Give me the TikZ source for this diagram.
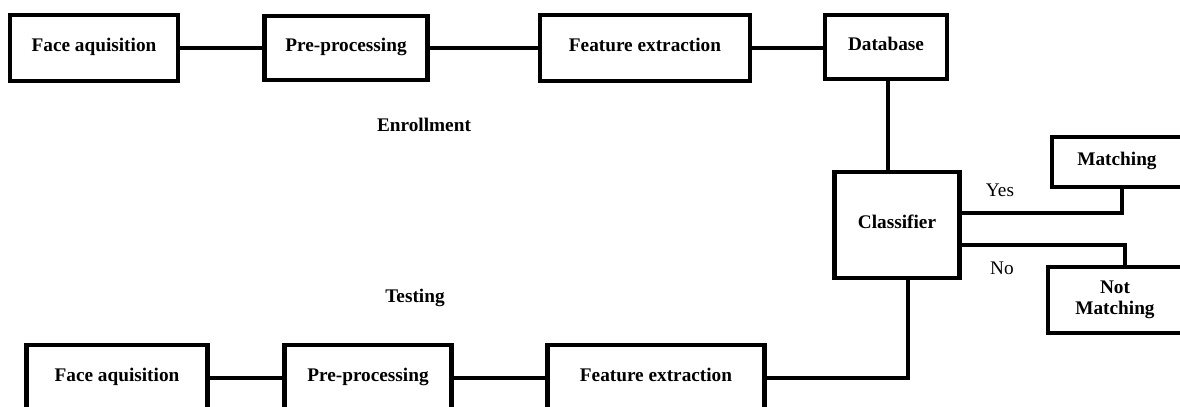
\documentclass[tikz,border=0pt]{standalone}
\usepackage{fontspec}
\setmainfont{Liberation Serif}
\usetikzlibrary{positioning, calc}

\tikzset{
  stagebox/.style={draw=black, line width=3pt, rectangle, inner sep=2pt,
    font=\fontsize{13.7}{15}\selectfont\bfseries, align=center,
    text height=1.6ex, text depth=0.6ex},
  link/.style={draw=black, line width=3pt},
  phase/.style={font=\fontsize{13.7}{15}\selectfont\bfseries},
  answer/.style={font=\fontsize{13.7}{15}\selectfont}
}

\begin{document}
\begin{tikzpicture}[x=0.025cm, y=-0.025cm]
  \useasboundingbox (0,0) rectangle (1180,407);

  % enrollment row
  \node[stagebox, minimum width=168*0.025cm, minimum height=66*0.025cm] (faceA) at (94,48) {Face aquisition};
  \node[stagebox, minimum width=163*0.025cm, minimum height=64*0.025cm] (preA) at (346,48) {Pre-processing};
  \node[stagebox, minimum width=210*0.025cm, minimum height=66*0.025cm] (featA) at (645,48) {Feature extraction};
  \node[stagebox, minimum width=122*0.025cm, minimum height=64*0.025cm] (dbase) at (886,47) {Database};
  \node[phase] (enroll) at (424,125) {Enrollment};

  % decision part
  \node[stagebox, minimum width=125*0.025cm, minimum height=106*0.025cm] (classif) at (897,225) {Classifier};
  \node[stagebox, minimum width=130*0.025cm, minimum height=50*0.025cm] (match) at (1117,162) {Matching};
  \node[stagebox, text height={}, text depth={}, minimum width=134*0.025cm, minimum height=66*0.025cm] (nomatch) at (1115,300) {Not\\Matching};
  \node[answer] (yes) at (1000,190) {Yes};
  \node[answer] (no) at (1002,268) {No};

  % testing row
  \node[phase] (test) at (415,298) {Testing};
  \node[stagebox, minimum width=181*0.025cm, minimum height=66*0.025cm] (faceB) at (117,378) {Face aquisition};
  \node[stagebox, minimum width=167*0.025cm, minimum height=66*0.025cm] (preB) at (368,378) {Pre-processing};
  \node[stagebox, minimum width=217*0.025cm, minimum height=66*0.025cm] (featB) at (656,378) {Feature extraction};

  \draw[link] (faceA) -- (preA);
  \draw[link] (preA) -- (featA);
  \draw[link] (featA.east) -- (featA.east -| dbase.west);
  \draw[link] ([xshift=2*0.025cm]dbase.south) -- ([xshift=2*0.025cm]dbase.south |- classif.north);
  \draw[link] ($(classif.east)+(0,-12)$) -| ($(match.south)+(5,0)$);
  \draw[link] ($(classif.east)+(0,20)$) -| ($(nomatch.north)+(10,0)$);
  \draw[link] ($(classif.south)+(11,0)$) |- (featB.east);
  \draw[link] (faceB) -- (preB);
  \draw[link] (preB) -- (featB);
\end{tikzpicture}
\end{document}
